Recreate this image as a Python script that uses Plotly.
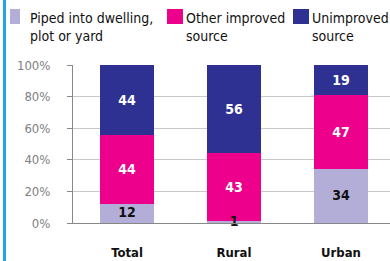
import plotly.graph_objects as go

categories = ["Total", "Rural", "Urban"]
series_names = ["Piped into dwelling,<br>plot or yard", "Other improved<br>source", "Unimproved<br>source"]
piped = [12, 1, 34]
other_improved = [44, 43, 47]
unimproved = [44, 56, 19]
y_ticks = [0, 20, 40, 60, 80, 100]
y_tick_labels = ["0%", "20%", "40%", "60%", "80%", "100%"]

colors = ["#b3aed8", "#ec008c", "#2e3192"]
text_colors = ["#111111", "#ffffff", "#ffffff"]
FONT = "DejaVu Sans Condensed, Liberation Sans Narrow, sans-serif"

fig = go.Figure()
for i, (name, vals, c, tc) in enumerate(zip(series_names, [piped, other_improved, unimproved], colors, text_colors)):
    fig.add_trace(go.Bar(
        x=categories, y=vals, name=name, marker=dict(color=c, line=dict(width=0)),
        text=None if i == 0 else [str(v) for v in vals],
        textposition="inside", insidetextanchor="middle",
        constraintext="none",
        textfont=dict(color=tc, size=14, family=FONT, weight="bold"),
        showlegend=False, width=0.5,
    ))
# labels for the piped segment (centred on the segment, even when it is tiny)
fig.add_trace(go.Scatter(
    x=categories, y=[v / 2 for v in piped], mode="text",
    text=[str(v) for v in piped], textposition="middle center", cliponaxis=False,
    textfont=dict(color=text_colors[0], size=14, family=FONT, weight="bold"),
    showlegend=False, hoverinfo="skip",
))

W, H = 390, 261
PL, PW, PB, PH = 73, 317, 223, 158
# manual legend
leg_x = [10, 167, 293]
leg_w = [10, 16, 16]
leg_tx = [30, 186, 312]
for i, (name, c) in enumerate(zip(series_names, colors)):
    x0 = leg_x[i]
    fig.add_shape(type="rect", xref="paper", yref="paper",
                  x0=(x0 - PL) / PW, x1=(x0 + leg_w[i] - PL) / PW,
                  y0=(PB - 24) / PH, y1=(PB - 9) / PH,
                  fillcolor=c, line=dict(width=0), layer="above")
    fig.add_annotation(xref="paper", yref="paper", x=(leg_tx[i] - 2 - PL) / PW,
                       y=(PB - 8) / PH, xanchor="left", yanchor="top",
                       text=name, showarrow=False, align="left",
                       font=dict(family=FONT, size=14, color="#111111"))

# left blue stripe
fig.add_shape(type="rect", xref="paper", yref="paper",
              x0=(3 - PL) / PW, x1=(6 - PL) / PW, y0=-1, y1=2,
              fillcolor="#1ea7e6", line=dict(width=0), layer="above")

fig.update_layout(
    width=W, height=H, barmode="stack", bargap=0.5,
    margin=dict(l=73, r=0, t=65, b=38, autoexpand=False),
    plot_bgcolor="white", paper_bgcolor="white",
    uniformtext=dict(minsize=14, mode="show"),
    font=dict(family=FONT),
)
fig.update_xaxes(range=[-0.505, 2.458], showline=True, linecolor="#888888", linewidth=1,
                 ticks="", ticklabelstandoff=17, automargin=False,
                 tickfont=dict(family=FONT, size=13, color="#111111", weight="bold"))
fig.update_yaxes(range=[0, 100], tickvals=y_ticks, ticktext=y_tick_labels,
                 showgrid=True, gridcolor="#c8c8c8", gridwidth=1,
                 showline=True, linecolor="#888888", linewidth=1, automargin=False,
                 ticks="outside", ticklen=5, tickcolor="#888888", ticklabelstandoff=14,
                 tickfont=dict(family=FONT, size=13, color="#808080"), zeroline=False)

fig.write_html("out.html", config={"displayModeBar": False},
               post_script="document.body.style.margin='0';document.body.style.padding='0';document.body.style.overflow='hidden';")
